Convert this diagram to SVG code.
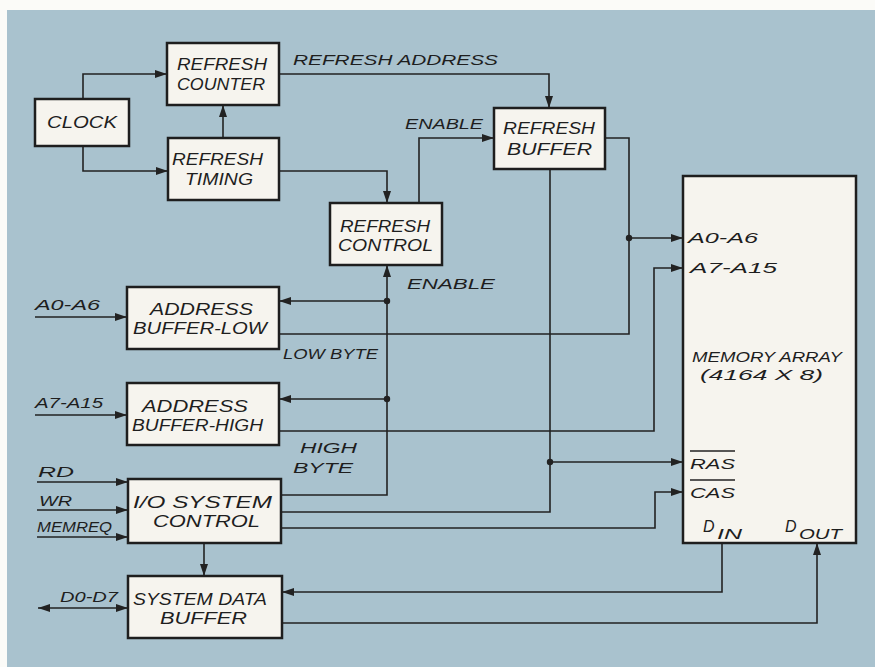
<svg xmlns="http://www.w3.org/2000/svg" width="875" height="667" viewBox="0 0 875 667">
<defs>
<style>
.box{fill:#f6f4ee;stroke:#1e1e1e;stroke-width:2.5}
.ln{fill:none;stroke:#222;stroke-width:1.6}
.arr{marker-end:url(#ah)}
text{font-family:"Liberation Sans",Arial,sans-serif;font-style:italic;fill:#1e1e1e}
.bt{font-size:16.5px}
.lb{font-size:14px}
.dd{font-size:16px}
.sub{font-size:15px}
.dot{fill:#222}
</style>
<marker id="ah" markerUnits="userSpaceOnUse" markerWidth="12" markerHeight="8" refX="12" refY="4" orient="auto-start-reverse">
<path d="M0,0 L12,4 L0,8 Z" fill="#222"/>
</marker>
</defs>
<rect x="0" y="0" width="875" height="667" fill="#fbfbf8"/>
<rect x="7" y="10" width="868" height="657" fill="#a9c2ce"/>

<g id="connectors">
<path class="ln arr" d="M83,99 V74 H167"/>
<path class="ln arr" d="M83,146 V171 H168"/>
<path class="ln arr" d="M223,138 V105"/>
<path class="ln arr" d="M279,171 H387 V203"/>
<path class="ln arr" d="M279,74 H549 V108"/>
<path class="ln arr" d="M419,203 V138 H494"/>
<path class="ln" d="M605,138 H629 V238"/>
<path class="ln arr" d="M629,238 H683"/>
<path class="ln" d="M279,334 H629 V238"/>
<path class="ln arr" d="M279,431 H654 V268 H683"/>
<path class="ln" d="M550,169 V462"/>
<path class="ln arr" d="M550,462 H683"/>
<path class="ln" d="M281,512 H550 V462"/>
<path class="ln arr" d="M281,528 H655 V492 H683"/>
<path class="ln arr" d="M281,495 H387 V265"/>
<path class="ln arr" d="M387,301 H279"/>
<path class="ln arr" d="M387,399 H279"/>
<path class="ln arr" d="M722,543 V592 H282"/>
<path class="ln arr" d="M282,623 H817 V543"/>
<path class="ln arr" d="M204,543 V576"/>
<path class="ln arr" d="M35,317 H127"/>
<path class="ln arr" d="M35,415 H127"/>
<path class="ln arr" d="M37,482 H128"/>
<path class="ln arr" d="M37,510 H128"/>
<path class="ln arr" d="M37,537 H128"/>
<path class="ln arr" d="M38,608 H128" marker-start="url(#ah)"/>
<circle class="dot" cx="629" cy="238" r="3.2"/>
<circle class="dot" cx="387" cy="301" r="3.2"/>
<circle class="dot" cx="387" cy="399" r="3.2"/>
<circle class="dot" cx="550" cy="462" r="3.2"/>
</g>

<g id="labels">
<text class="lb" x="293" y="65" textLength="205" lengthAdjust="spacingAndGlyphs">REFRESH ADDRESS</text>
<text class="lb" x="405" y="129" textLength="78" lengthAdjust="spacingAndGlyphs">ENABLE</text>
<text class="lb" x="407" y="289" textLength="88" lengthAdjust="spacingAndGlyphs">ENABLE</text>
<text class="lb" x="283" y="359" textLength="95" lengthAdjust="spacingAndGlyphs">LOW BYTE</text>
<text class="lb" x="300" y="453" textLength="57" lengthAdjust="spacingAndGlyphs">HIGH</text>
<text class="lb" x="293" y="473" textLength="60" lengthAdjust="spacingAndGlyphs">BYTE</text>
<text class="lb" x="35" y="310" textLength="65" lengthAdjust="spacingAndGlyphs">A0-A6</text>
<text class="lb" x="35" y="408" textLength="68" lengthAdjust="spacingAndGlyphs">A7-A15</text>
<text class="lb" x="38" y="477" textLength="36" lengthAdjust="spacingAndGlyphs">RD</text>
<text class="lb" x="39" y="506" textLength="33" lengthAdjust="spacingAndGlyphs">WR</text>
<text class="lb" x="37" y="532" textLength="75" lengthAdjust="spacingAndGlyphs">MEMREQ</text>
<text class="lb" x="60" y="602" textLength="58" lengthAdjust="spacingAndGlyphs">D0-D7</text>
</g>

<g id="clock"><rect class="box" x="35" y="99" width="94" height="47"/><text class="bt" x="47" y="128" textLength="70" lengthAdjust="spacingAndGlyphs">CLOCK</text></g>
<g id="refresh-counter"><rect class="box" x="167" y="43" width="112" height="62"/><text class="bt" x="177" y="70" textLength="90" lengthAdjust="spacingAndGlyphs">REFRESH</text><text class="bt" x="177" y="90" textLength="88" lengthAdjust="spacingAndGlyphs">COUNTER</text></g>
<g id="refresh-timing"><rect class="box" x="168" y="138" width="111" height="62"/><text class="bt" x="172" y="165" textLength="91" lengthAdjust="spacingAndGlyphs">REFRESH</text><text class="bt" x="185" y="185" textLength="68" lengthAdjust="spacingAndGlyphs">TIMING</text></g>
<g id="refresh-control"><rect class="box" x="330" y="203" width="112" height="62"/><text class="bt" x="340" y="232" textLength="90" lengthAdjust="spacingAndGlyphs">REFRESH</text><text class="bt" x="338" y="251" textLength="95" lengthAdjust="spacingAndGlyphs">CONTROL</text></g>
<g id="refresh-buffer"><rect class="box" x="494" y="108" width="111" height="61"/><text class="bt" x="503" y="134" textLength="92" lengthAdjust="spacingAndGlyphs">REFRESH</text><text class="bt" x="507" y="155" textLength="85" lengthAdjust="spacingAndGlyphs">BUFFER</text></g>
<g id="address-buffer-low"><rect class="box" x="127" y="287" width="152" height="62"/><text class="bt" x="150" y="315" textLength="103" lengthAdjust="spacingAndGlyphs">ADDRESS</text><text class="bt" x="133" y="334" textLength="134" lengthAdjust="spacingAndGlyphs">BUFFER-LOW</text></g>
<g id="address-buffer-high"><rect class="box" x="127" y="383" width="152" height="62"/><text class="bt" x="142" y="412" textLength="106" lengthAdjust="spacingAndGlyphs">ADDRESS</text><text class="bt" x="132" y="431" textLength="131" lengthAdjust="spacingAndGlyphs">BUFFER-HIGH</text></g>
<g id="io-system-control"><rect class="box" x="128" y="479" width="153" height="64"/><text class="bt" x="133" y="508" textLength="139" lengthAdjust="spacingAndGlyphs">I/O SYSTEM</text><text class="bt" x="153" y="527" textLength="107" lengthAdjust="spacingAndGlyphs">CONTROL</text></g>
<g id="system-data-buffer"><rect class="box" x="128" y="576" width="154" height="62"/><text class="bt" x="133" y="605" textLength="134" lengthAdjust="spacingAndGlyphs">SYSTEM DATA</text><text class="bt" x="160" y="624" textLength="87" lengthAdjust="spacingAndGlyphs">BUFFER</text></g>
<g id="memory-array"><rect class="box" x="683" y="176" width="173" height="367"/>
<text class="lb" x="688" y="243" textLength="70" lengthAdjust="spacingAndGlyphs">A0-A6</text>
<text class="lb" x="690" y="273" textLength="87" lengthAdjust="spacingAndGlyphs">A7-A15</text>
<text class="lb" x="692" y="362" textLength="150" lengthAdjust="spacingAndGlyphs">MEMORY ARRAY</text>
<text class="lb" x="700" y="380" textLength="123" lengthAdjust="spacingAndGlyphs">(4164 X 8)</text>
<text class="lb" x="690" y="469" textLength="45" lengthAdjust="spacingAndGlyphs">RAS</text>
<line x1="690" y1="451" x2="735" y2="451" stroke="#222" stroke-width="1.5"/>
<text class="lb" x="690" y="498" textLength="45" lengthAdjust="spacingAndGlyphs">CAS</text>
<line x1="690" y1="480" x2="735" y2="480" stroke="#222" stroke-width="1.5"/>
<text class="dd" x="703" y="532">D</text>
<text class="sub" x="717" y="539" textLength="25" lengthAdjust="spacingAndGlyphs">IN</text>
<text class="dd" x="785" y="532">D</text>
<text class="sub" x="799" y="539" textLength="43" lengthAdjust="spacingAndGlyphs">OUT</text>
</g>
</svg>
